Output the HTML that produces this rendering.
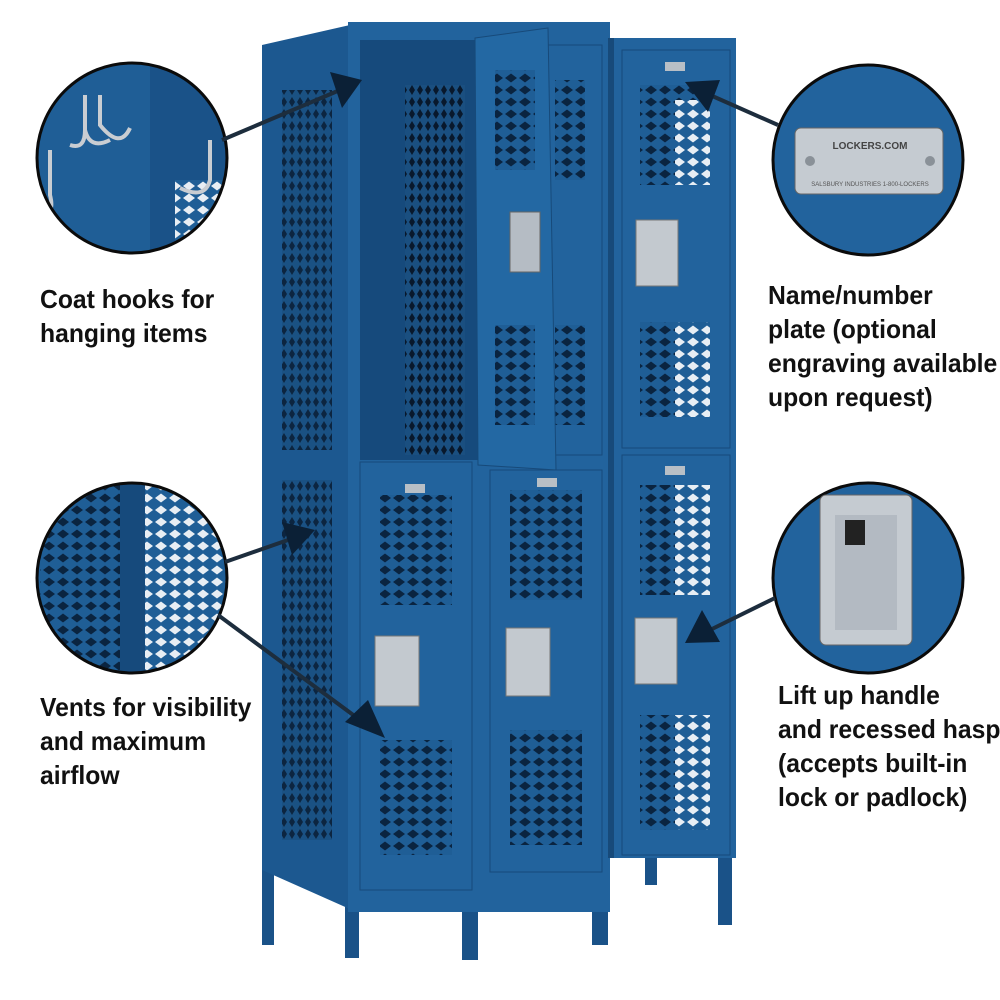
<!DOCTYPE html>
<html><head><style>
body{margin:0;background:#fff;width:1000px;height:1000px;overflow:hidden;position:relative;font-family:"Liberation Sans",sans-serif}
.t{position:absolute;font-weight:bold;font-size:26px;line-height:34px;color:#111;transform:scaleX(0.95);transform-origin:left top;white-space:nowrap}
</style></head><body>
<svg width="1000" height="1000" style="position:absolute;left:0;top:0">
<defs>
<pattern id="m" width="14" height="12" patternUnits="userSpaceOnUse">
<rect width="14" height="12" fill="#1f5e96"/>
<path d="M1 6 L7 1.5 L13 6 L7 10.5Z" fill="#0a2440"/>
</pattern>
<pattern id="m2" width="8" height="12" patternUnits="userSpaceOnUse">
<rect width="8" height="12" fill="#1a4f80"/>
<path d="M1 6 L4 1 L7 6 L4 11Z" fill="#08182c"/>
</pattern>
<pattern id="mw" width="14" height="12" patternUnits="userSpaceOnUse">
<rect width="14" height="12" fill="#1f5e96"/>
<path d="M1 6 L7 1.5 L13 6 L7 10.5Z" fill="#e8eef4"/>
</pattern>
<clipPath id="c1"><circle cx="132" cy="158" r="94"/></clipPath>
<clipPath id="c2"><circle cx="132" cy="578" r="94"/></clipPath>
</defs>
<!-- legs -->
<g fill="#1a5288">
<rect x="262" y="860" width="12" height="85"/><rect x="345" y="880" width="14" height="78"/>
<rect x="462" y="880" width="16" height="80"/><rect x="592" y="875" width="16" height="70"/>
<rect x="718" y="855" width="14" height="70"/><rect x="645" y="855" width="12" height="30"/>
</g>
<polygon points="262,45 350,25 352,910 262,870" fill="#1c5890"/>
<rect x="282" y="90" width="50" height="360" fill="url(#m2)" opacity="0.8"/>
<rect x="282" y="480" width="50" height="360" fill="url(#m2)" opacity="0.8"/>
<rect x="348" y="22" width="262" height="890" fill="#22639d"/>
<rect x="610" y="38" width="126" height="820" fill="#22639d"/>
<rect x="608" y="38" width="6" height="820" fill="#174a7a"/>
<rect x="360" y="40" width="118" height="420" fill="#164a7c"/>
<rect x="405" y="85" width="60" height="370" fill="url(#m2)"/>
<rect x="487" y="45" width="115" height="410" fill="#22639d" stroke="#174a7a"/>
<rect x="555" y="80" width="30" height="100" fill="url(#m)"/>
<rect x="555" y="325" width="30" height="100" fill="url(#m)"/>
<polygon points="475,38 548,28 556,470 478,465" fill="#2368a3" stroke="#174a7a"/>
<rect x="495" y="70" width="40" height="100" fill="url(#m)"/>
<rect x="495" y="325" width="40" height="100" fill="url(#m)"/>
<rect x="510" y="212" width="30" height="60" fill="#b5bcc4" stroke="#666"/>
<rect x="622" y="50" width="108" height="398" fill="#22639d" stroke="#174a7a"/>
<rect x="640" y="85" width="70" height="100" fill="url(#m)"/>
<rect x="675" y="100" width="35" height="85" fill="url(#mw)"/>
<rect x="640" y="322" width="70" height="95" fill="url(#m)"/>
<rect x="675" y="322" width="35" height="95" fill="url(#mw)"/>
<rect x="636" y="220" width="42" height="66" fill="#c3c9cf" stroke="#777"/>
<rect x="665" y="62" width="20" height="9" fill="#b8bfc6"/>
<rect x="360" y="462" width="112" height="428" fill="#22639d" stroke="#174a7a"/>
<rect x="490" y="470" width="112" height="402" fill="#22639d" stroke="#174a7a"/>
<rect x="622" y="455" width="108" height="400" fill="#22639d" stroke="#174a7a"/>
<rect x="380" y="495" width="72" height="110" fill="url(#m)"/>
<rect x="380" y="740" width="72" height="115" fill="url(#m)"/>
<rect x="510" y="490" width="72" height="110" fill="url(#m)"/>
<rect x="510" y="730" width="72" height="115" fill="url(#m)"/>
<rect x="640" y="485" width="70" height="110" fill="url(#m)"/>
<rect x="675" y="485" width="35" height="110" fill="url(#mw)"/>
<rect x="640" y="715" width="70" height="115" fill="url(#m)"/>
<rect x="675" y="715" width="35" height="115" fill="url(#mw)"/>
<rect x="375" y="636" width="44" height="70" fill="#c3c9cf" stroke="#777"/>
<rect x="506" y="628" width="44" height="68" fill="#c3c9cf" stroke="#777"/>
<rect x="635" y="618" width="42" height="66" fill="#c3c9cf" stroke="#777"/>
<rect x="405" y="484" width="20" height="9" fill="#b8bfc6"/>
<rect x="537" y="478" width="20" height="9" fill="#b8bfc6"/>
<rect x="665" y="466" width="20" height="9" fill="#b8bfc6"/>
<!-- circles -->
<circle cx="132" cy="158" r="95" fill="#1f5e96"/>
<g clip-path="url(#c1)">
<rect x="150" y="60" width="90" height="200" fill="#1a5288"/>
<rect x="175" y="180" width="50" height="80" fill="url(#mw)"/>
<path d="M85 95 V130 Q85 150 70 145 M85 130 Q90 150 110 140 M100 95 V125 Q120 150 130 128 M50 150 V195 Q55 215 42 210 M210 140 V180 Q205 200 180 188" stroke="#c9cdd2" stroke-width="4" fill="none"/>
</g>
<circle cx="132" cy="578" r="95" fill="#1f5e96"/>
<g clip-path="url(#c2)">
<rect x="40" y="480" width="80" height="200" fill="url(#m)"/>
<rect x="120" y="480" width="25" height="200" fill="#164a7c"/>
<rect x="145" y="480" width="90" height="200" fill="url(#mw)"/>
</g>
<circle cx="868" cy="160" r="95" fill="#22639d"/>
<circle cx="868" cy="578" r="95" fill="#22639d"/>
<g stroke="#0b0b0b" stroke-width="3" fill="none">
<circle cx="132" cy="158" r="95"/><circle cx="132" cy="578" r="95"/>
<circle cx="868" cy="160" r="95"/><circle cx="868" cy="578" r="95"/>
</g>
<rect x="795" y="128" width="148" height="66" rx="6" fill="#c5cbd1" stroke="#666"/>
<circle cx="810" cy="161" r="5" fill="#8a9198"/><circle cx="930" cy="161" r="5" fill="#8a9198"/>
<text x="870" y="149" font-size="10" text-anchor="middle" font-family="Liberation Sans" font-weight="bold" fill="#444">LOCKERS.COM</text>
<text x="870" y="186" font-size="6" text-anchor="middle" font-family="Liberation Sans" fill="#555">SALSBURY INDUSTRIES  1-800-LOCKERS</text>
<rect x="820" y="495" width="92" height="150" rx="6" fill="#c5cbd1" stroke="#666"/>
<rect x="835" y="515" width="62" height="115" fill="#b3bac2"/>
<rect x="845" y="520" width="20" height="25" fill="#222"/>
<g stroke="#1d2d3d" stroke-width="4" fill="#0b2036">
<line x1="222" y1="140" x2="340" y2="90"/><polygon points="362,80 330,72 342,108" stroke="none"/>
<line x1="225" y1="562" x2="288" y2="540"/><polygon points="315,530 282,522 292,555" stroke="none"/>
<line x1="218" y1="615" x2="360" y2="720"/><polygon points="385,738 345,722 368,700" stroke="none"/>
<line x1="778" y1="125" x2="710" y2="95"/><polygon points="685,82 720,80 708,112" stroke="none"/>
<line x1="775" y1="598" x2="710" y2="630"/><polygon points="685,643 702,610 720,642" stroke="none"/>
</g>
</svg>
<div class="t" style="left:40px;top:282px">Coat hooks for<br>hanging items</div>
<div class="t" style="left:40px;top:690px">Vents for visibility<br>and maximum<br>airflow</div>
<div class="t" style="left:768px;top:278px">Name/number<br>plate (optional<br>engraving available<br>upon request)</div>
<div class="t" style="left:778px;top:678px">Lift up handle<br>and recessed hasp<br>(accepts built-in<br>lock or padlock)</div>
</body></html>
